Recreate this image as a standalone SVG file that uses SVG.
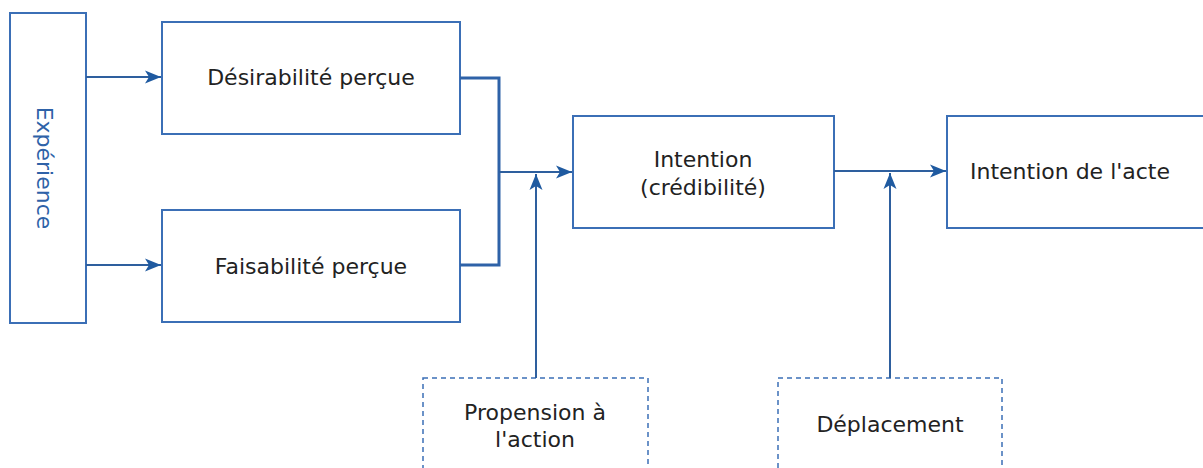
<svg xmlns="http://www.w3.org/2000/svg" width="1203" height="468" viewBox="0 0 1203 468">
<style>
.box{fill:#fff;stroke:#3b6fb6;stroke-width:2}
.dash{fill:#fff;stroke:#3b6fb6;stroke-width:1.5;stroke-dasharray:5 4}
.t{font-family:"DejaVu Sans",Verdana,sans-serif;font-size:22px;fill:#222;text-anchor:middle}
.c{fill:none;stroke:#2e5f9e;stroke-width:2}
.b{fill:none;stroke:#2e62a8;stroke-width:3}
</style>
<defs>
<marker id="ah" markerWidth="17" markerHeight="15" refX="16" refY="7.5" orient="auto" markerUnits="userSpaceOnUse"><path d="M0,1 L16,7.5 L0,14 L4,7.5 Z" fill="#1f5aa0"/></marker>
</defs>
<rect width="1203" height="468" fill="#fff"/>
<g id="experience"><rect class="box" x="10" y="13" width="76" height="310"/><text class="t" style="fill:#2e62a8" transform="translate(37,168) rotate(90)">Expérience</text></g>
<g id="desirabilite"><rect class="box" x="162" y="22" width="298" height="112"/><text class="t" x="311" y="85">Désirabilité perçue</text></g>
<g id="faisabilite"><rect class="box" x="162" y="210" width="298" height="112"/><text class="t" x="311" y="274">Faisabilité perçue</text></g>
<g id="intention"><rect class="box" x="573" y="116" width="261" height="112"/><text class="t" x="703" y="167">Intention</text><text class="t" x="703" y="195">(crédibilité)</text></g>
<g id="intention-acte"><rect class="box" x="947" y="116" width="262" height="112"/><text class="t" x="1070" y="179">Intention de l'acte</text></g>
<g id="propension"><rect class="dash" x="423" y="378" width="225" height="100"/><text class="t" x="535" y="420">Propension à</text><text class="t" x="535" y="447">l'action</text></g>
<g id="deplacement"><rect class="dash" x="778" y="378" width="224" height="100"/><text class="t" x="890" y="432">Déplacement</text></g>
<g id="connectors">
<line class="c" x1="86" y1="77" x2="161" y2="77" marker-end="url(#ah)"/>
<line class="c" x1="86" y1="265" x2="161" y2="265" marker-end="url(#ah)"/>
<path class="b" d="M460,78 H499 V265 H460"/>
<line class="c" x1="499" y1="172" x2="572" y2="172" marker-end="url(#ah)"/>
<line class="c" x1="536" y1="378" x2="536" y2="174" marker-end="url(#ah)"/>
<line class="c" x1="834" y1="171" x2="946" y2="171" marker-end="url(#ah)"/>
<line class="c" x1="890" y1="378" x2="890" y2="173" marker-end="url(#ah)"/>
</g>
</svg>
